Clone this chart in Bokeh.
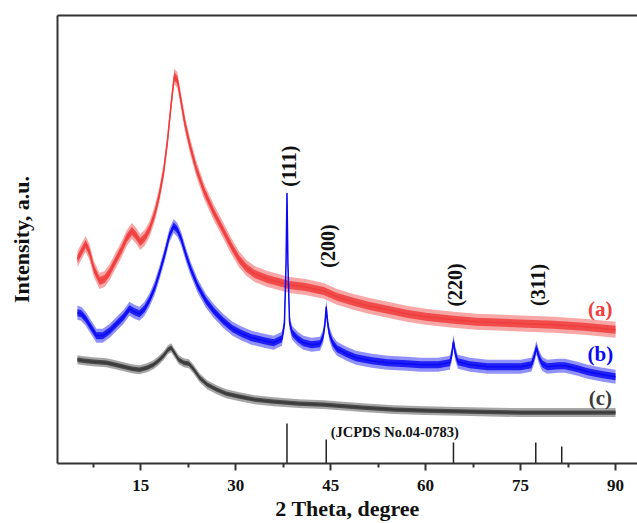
import numpy as np
from bokeh.plotting import figure
from bokeh.models import Range1d, FixedTicker, LinearAxis, ColumnDataSource
from bokeh.core.properties import value
from bokeh.embed import file_html
from bokeh.resources import INLINE

# ---- data (intensity in arbitrary units) ----
a_theta = [5.0, 5.6, 6.3, 6.9, 7.6, 8.5, 9.3, 10.1, 11.0, 12.0, 12.8, 13.6, 14.3, 14.9,
           15.6, 16.4, 17.2, 17.9, 18.6, 19.2, 19.8, 20.3, 20.8, 21.4, 22.0, 22.8, 23.8,
           25.0, 26.5, 28.0, 29.3, 30.5, 31.7, 33.0, 35.0, 38.5, 41.0, 43.9, 46.0, 48.6,
           51.0, 54.0, 57.0, 60.0, 64.4, 68.0, 72.3, 76.0, 80.2, 85.0, 90.0]
a_int = [205, 212, 220, 212, 195, 183, 185, 192, 203, 215, 226, 233, 228, 222,
         226, 235, 250, 268, 292, 322, 360, 388, 384, 362, 340, 318, 295,
         273, 252, 234, 218, 205, 196, 190, 185, 179, 177, 173, 167, 162,
         158, 154, 150, 147, 144, 142, 141, 140, 139, 137, 134]

b_theta = [5.0, 5.6, 6.3, 7.0, 8.0, 9.0, 10.1, 11.2, 12.3, 13.2, 14.0, 14.8, 15.6, 16.4,
           17.2, 18.0, 18.8, 19.5, 20.2, 20.8, 21.4, 22.2, 22.9, 24.0, 25.3, 26.5, 28.0,
           29.5, 31.0, 32.5, 34.5, 36.0, 37.3, 37.7, 37.95, 38.1, 38.25, 38.5, 38.9,
           39.8, 40.7, 42.0, 43.3, 43.8, 44.1, 44.3, 44.5, 44.8, 45.3, 46.0, 47.5, 49.0,
           51.5, 54.0, 57.0, 59.2, 62.0, 63.8, 64.1, 64.4, 64.7, 65.1, 67.0, 69.8, 72.0,
           75.0, 76.7, 77.1, 77.5, 77.9, 78.4, 79.2, 81.0, 82.0, 84.0, 85.6, 88.0, 90.0]
b_int = [151, 150, 145, 138, 128, 128, 133, 140, 147, 155, 152, 150, 155, 164,
         176, 192, 210, 228, 238, 234, 225, 208, 195, 178, 163, 153, 143,
         135, 130, 126, 123, 121, 125, 140, 200, 271, 200, 142, 131,
         125, 121, 119, 120, 127, 140, 157, 142, 130, 121, 115, 110, 106,
         103, 101, 100, 99, 99, 101, 108, 122, 110, 102, 99, 97, 97,
         97, 99, 106, 116, 107, 100, 97, 98, 98, 95, 92, 89, 87]

c_theta = [5.0, 6.0, 7.5, 9.6, 11.0, 12.3, 13.6, 14.8, 16.0, 17.0, 17.8, 18.6, 19.3,
           19.8, 20.4, 21.0, 21.8, 22.6, 23.3, 24.3, 25.5, 27.0, 28.5, 30.6, 33.0,
           36.0, 40.0, 43.9, 50.0, 55.0, 60.0, 67.0, 75.0, 82.0, 90.0]
c_int = [104, 103, 102, 101, 99, 97, 95, 94, 96, 99, 103, 108, 114,
         116, 110, 104, 101, 100, 95, 86, 79, 74, 70, 67, 64,
         62, 60, 59, 56, 54, 53, 52, 51, 51, 51]

# JCPDS No.04-0783 reference lines
ref_theta = [38.1, 44.3, 64.4, 77.4, 81.5]
ref_int = [40, 24, 21, 21, 17]

peak_labels = ["(111)", "(200)", "(220)", "(311)"]
peak_theta = [38.1, 44.3, 64.4, 77.4]
peak_label_y = [298, 218, 179, 179]

series_labels = ["(a)", "(b)", "(c)"]
series_label_y = [155, 110, 66]

x_ticks = [15, 30, 45, 60, 75, 90]
x_minor = [7.5, 22.5, 37.5, 52.5, 67.5, 82.5]

FONT = "Liberation Serif"
RED, BLUE, GRAY = "#F03C3C", "#0A0AF5", "#3A3A3A"

p = figure(width=637, height=523, output_backend="svg", toolbar_location=None,
           x_range=Range1d(1.85, 93.47), y_range=Range1d(0, 449),
           min_border_left=57, min_border_right=0, min_border_top=15, min_border_bottom=59)
p.outline_line_color = None
p.grid.visible = False
p.background_fill_color = "white"
p.border_fill_color = "white"

# curves: light outer noise band, dense inner band, centre line
for th, it, col, w_out, w_in in [(a_theta, a_int, RED, 8.0, 4.0),
                                 (b_theta, b_int, BLUE, 7.0, 3.5),
                                 (c_theta, c_int, GRAY, 4.5, 2.2)]:
    th = np.array(th, float)
    it = np.array(it, float)
    src = ColumnDataSource(dict(x=th, y=it, lo=it - w_out, hi=it + w_out,
                                lo2=it - w_in, hi2=it + w_in))
    p.varea(x="x", y1="lo", y2="hi", source=src, fill_color=col, fill_alpha=0.45)
    p.varea(x="x", y1="lo2", y2="hi2", source=src, fill_color=col, fill_alpha=0.85)
    p.line(x="x", y="y", source=src, line_color=col, line_width=1.5)

# reference sticks
p.segment(x0=ref_theta, y0=[0] * len(ref_theta), x1=ref_theta, y1=ref_int,
          line_color="#222222", line_width=1.5)

p.text(x=[45.0], y=[32], text=["(JCPDS No.04-0783)"], text_font=value(FONT),
       text_font_style="bold", text_font_size="14.5px", text_align="left",
       text_baseline="middle", text_color="#111111")

p.text(x=peak_theta, y=peak_label_y, text=peak_labels, angle=np.pi / 2, x_offset=2,
       text_font=value(FONT), text_font_style="bold", text_font_size="20px",
       text_align="center", text_baseline="middle", text_color="#111111")

p.text(x=[87.6] * 3, y=series_label_y, text=series_labels,
       text_font=value(FONT), text_font_style="bold", text_font_size="21px",
       text_align="center", text_baseline="middle", text_color=[RED, BLUE, GRAY])

# axes
xa = p.xaxis[0]
xa.ticker = FixedTicker(ticks=x_ticks, minor_ticks=x_minor)
xa.axis_label = "2 Theta, degree"
ya = p.yaxis[0]
ya.ticker = FixedTicker(ticks=[])
ya.axis_label = "Intensity, a.u."
for ax in (xa, ya):
    ax.axis_line_width = 2
    ax.axis_line_color = "#333333"
    ax.major_tick_line_width = 2
    ax.minor_tick_line_width = 2
    ax.major_tick_line_color = "#333333"
    ax.minor_tick_line_color = "#333333"
    ax.major_tick_in = 0
    ax.major_tick_out = 7
    ax.minor_tick_in = 0
    ax.minor_tick_out = 4
    ax.major_label_text_font = FONT
    ax.major_label_text_font_style = "bold"
    ax.major_label_text_font_size = "17px"
    ax.major_label_text_color = "#111111"
    ax.axis_label_text_font = FONT
    ax.axis_label_text_font_style = "bold"
    ax.axis_label_text_font_size = "22px"
    ax.axis_label_text_color = "#111111"
xa.major_label_standoff = 9
xa.axis_label_standoff = 2
ya.axis_label_standoff = 24

top = LinearAxis(ticker=FixedTicker(ticks=[]), axis_line_width=2, axis_line_color="#333333",
                 major_label_standoff=0, major_tick_out=0, minor_tick_out=0)
p.add_layout(top, "above")

open("out.html", "w").write(file_html(p, INLINE))
